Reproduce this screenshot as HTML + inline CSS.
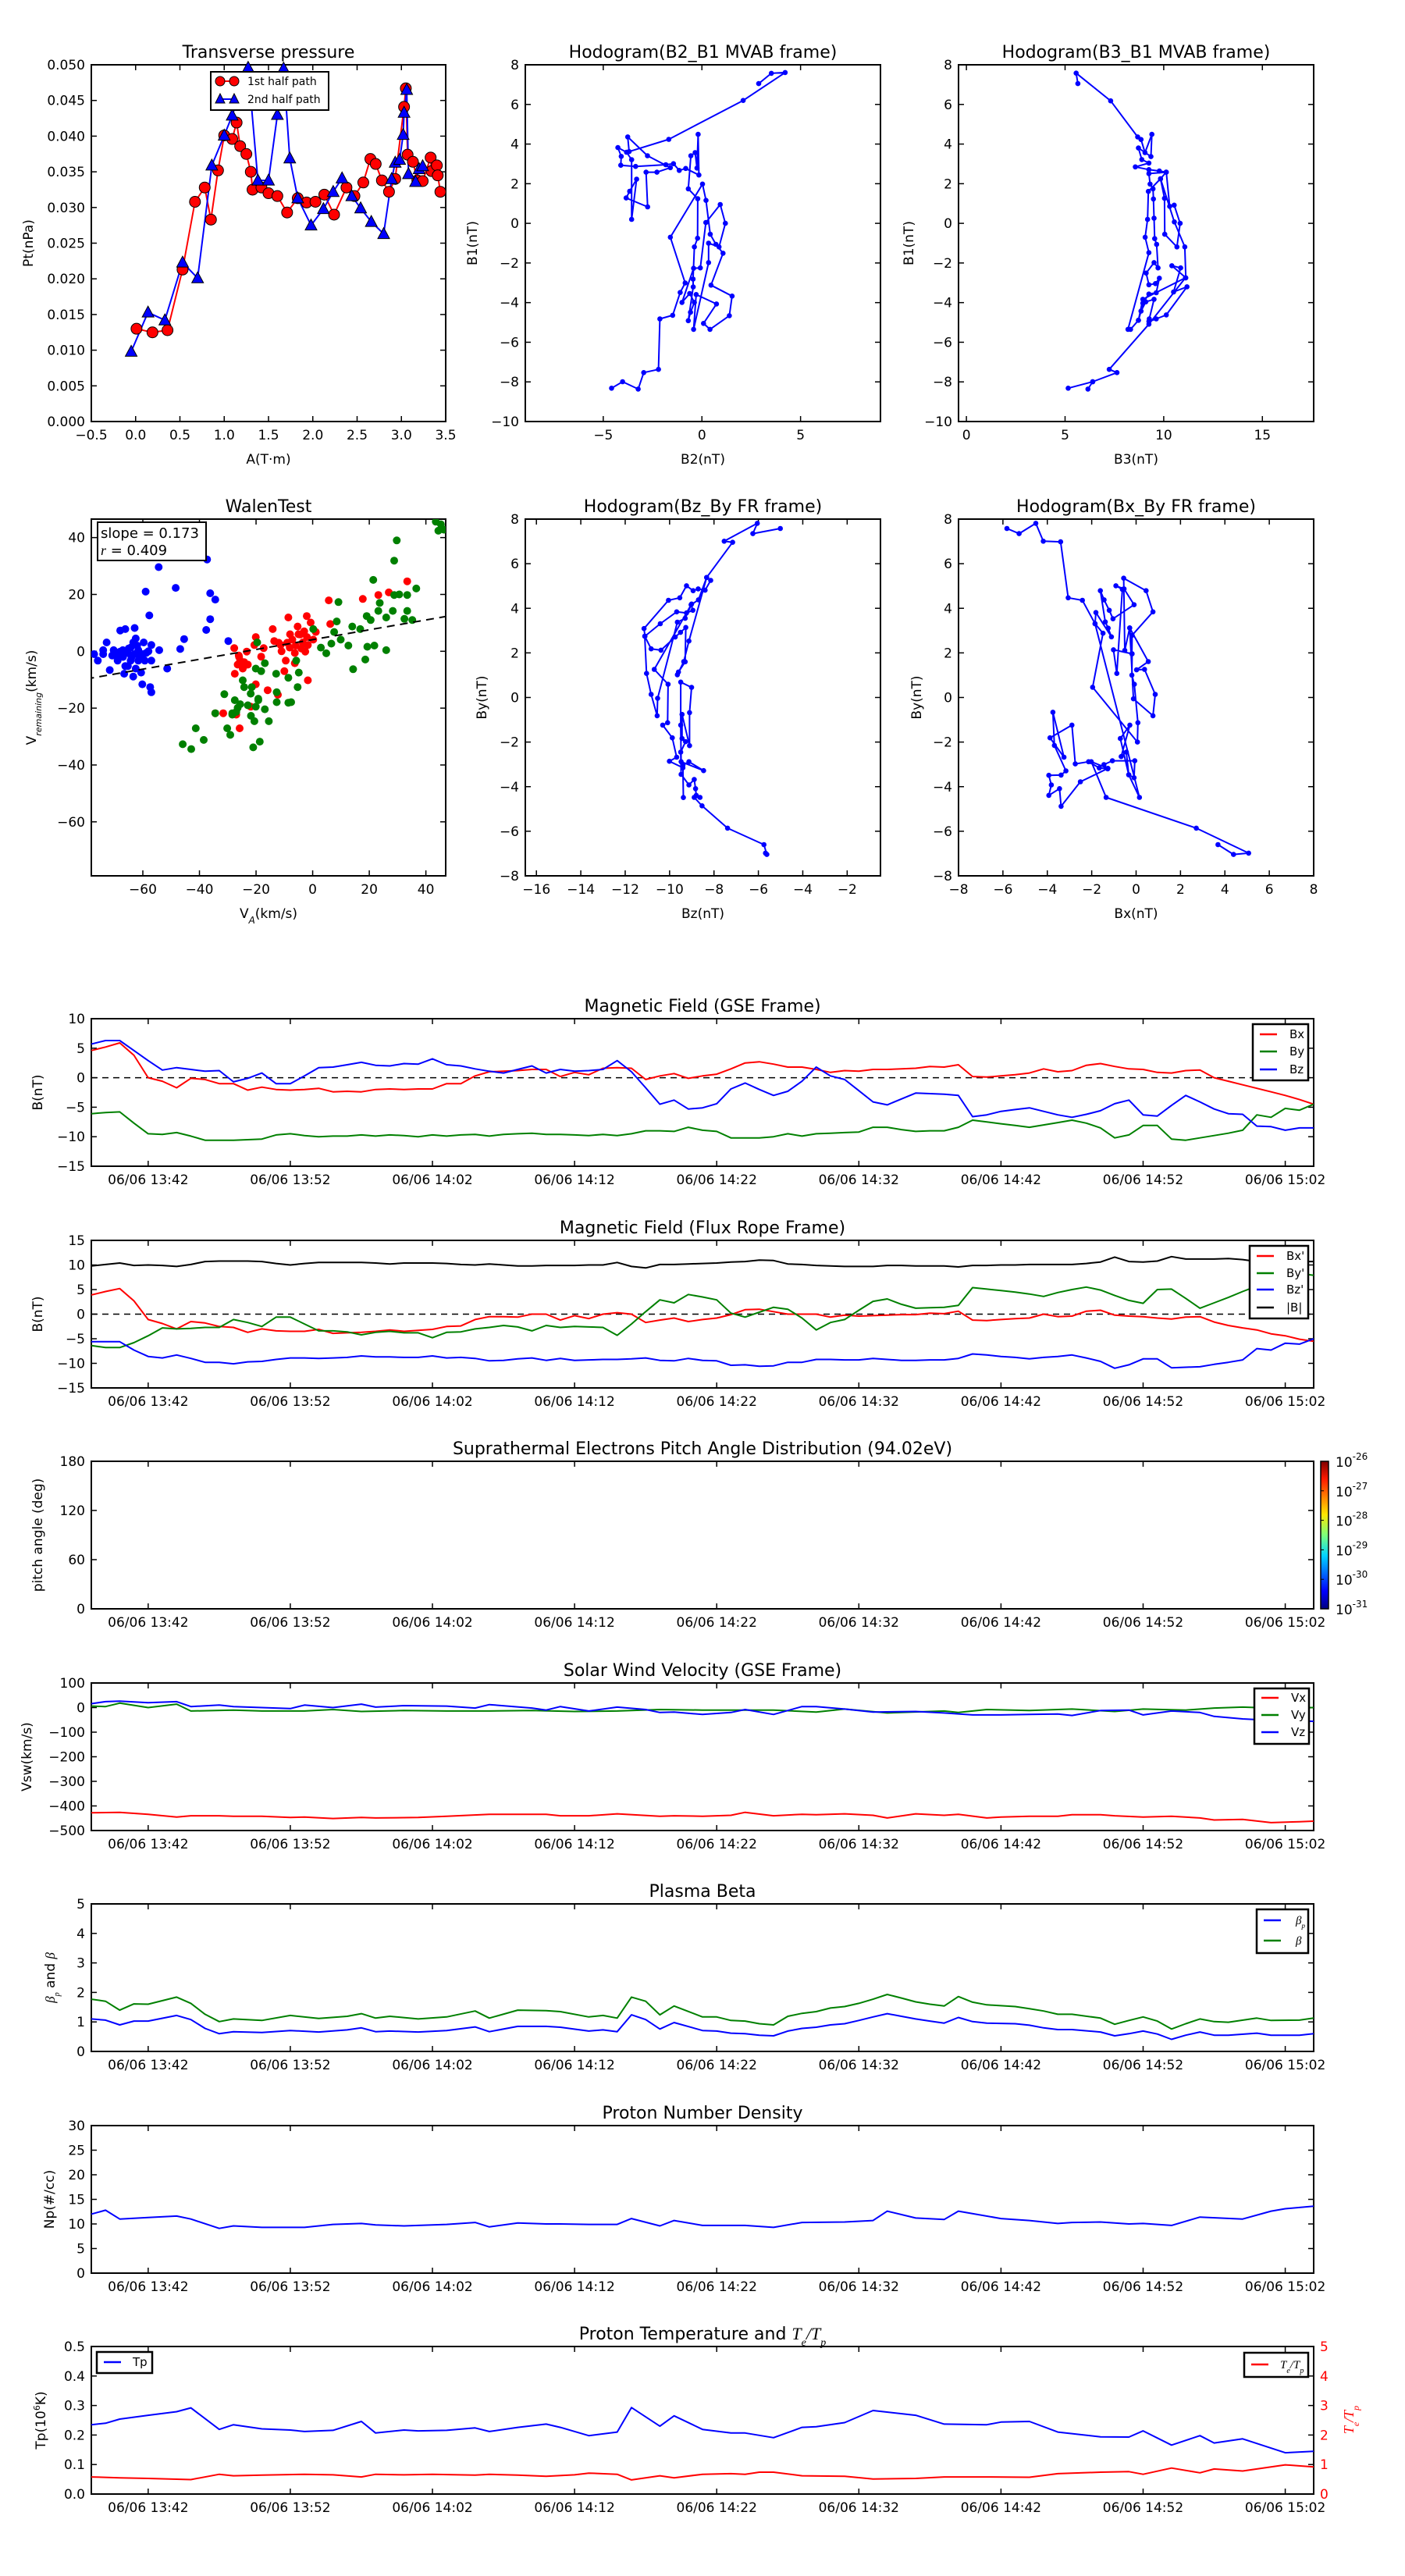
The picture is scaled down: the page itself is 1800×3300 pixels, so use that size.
<!DOCTYPE html>
<html><head><meta charset="utf-8">
<style>
body{margin:0;background:#fff}
svg{display:block;font-family:"DejaVu Sans","Liberation Sans",sans-serif}
</style></head>
<body>
<svg id="fig" width="1800" height="3300" viewBox="0 0 1800 3300">
<rect width="1800" height="3300" fill="#fff"/>
<defs>
<linearGradient id="jet" x1="0" y1="1" x2="0" y2="0">
<stop offset="0" stop-color="#00007f"/><stop offset="0.12" stop-color="#0000ff"/><stop offset="0.36" stop-color="#00d4ff"/><stop offset="0.5" stop-color="#7dff7a"/><stop offset="0.64" stop-color="#ffe600"/><stop offset="0.88" stop-color="#ff1a00"/><stop offset="1" stop-color="#7f0000"/>
</linearGradient>
</defs>
</svg>
<script>
// ---------- DATA ----------
const ptRedA=[0.01,0.19,0.36,0.53,0.67,0.78,0.85,0.93,1.0,1.09,1.14,1.18,1.25,1.30,1.32,1.42,1.50,1.60,1.71,1.83,1.93,2.03,2.13,2.24,2.38,2.47,2.57,2.65,2.71,2.78,2.86,2.93,3.03,3.05,3.07,3.13,3.18,3.24,3.33,3.34,3.40,3.41,3.44];
const ptRedP=[0.013,0.0125,0.0128,0.0213,0.0308,0.0328,0.0283,0.0352,0.0401,0.0396,0.0419,0.0386,0.0375,0.035,0.0325,0.0328,0.032,0.0316,0.0293,0.0313,0.0307,0.0308,0.0318,0.029,0.0328,0.0316,0.0335,0.0368,0.0361,0.0338,0.0322,0.034,0.0441,0.0467,0.0374,0.0364,0.0338,0.0337,0.037,0.0351,0.0359,0.0345,0.0322];
const ptBlueA=[-0.05,0.14,0.33,0.53,0.70,0.86,1.0,1.09,1.27,1.38,1.50,1.60,1.67,1.74,1.83,1.98,2.12,2.23,2.33,2.44,2.54,2.66,2.80,2.89,2.93,2.98,3.02,3.03,3.06,3.08,3.16,3.20,3.24];
const ptBlueP=[0.0098,0.0153,0.0142,0.0223,0.0201,0.0359,0.0401,0.0429,0.0496,0.0338,0.0338,0.043,0.0495,0.0369,0.0313,0.0275,0.0298,0.0322,0.0341,0.0316,0.0299,0.028,0.0263,0.034,0.0363,0.0367,0.0402,0.0433,0.0465,0.0347,0.0336,0.0354,0.0358];

const h1B2=[-4.58,-4.02,-3.23,-2.95,-2.20,-2.13,-1.48,-1.10,-0.85,-1.60,0.03,0.21,0.42,0.71,1.07,0.46,1.53,1.39,0.41,0.08,0.74,-0.29,-0.42,0.34,0.34,0.87,1.19,0.93,0.20,-0.08,-0.42,-1.01,-0.62,-0.38,-0.58,-0.69,-0.44,-0.45,-0.38,-0.22,-0.21,-0.69,-0.56,-0.34,-0.25,-0.19,-0.15,-0.82,-1.15,-1.44,-1.83,-3.36,-4.11,-4.09,-4.26,-3.82,-3.56,-3.56,-3.31,-3.66,-3.84,-2.75,-2.83,-2.28,-1.60,-2.76,-3.76,-3.69,-1.68,2.09,4.22,3.52,2.88];
const h1B1=[-8.32,-7.99,-8.36,-7.53,-7.37,-4.82,-4.64,-3.49,-3.01,-0.70,1.98,1.16,-0.55,-1.06,-1.51,-3.12,-3.67,-4.66,-5.35,-5.05,-4.07,-3.59,-5.35,-1.98,-1.00,-1.19,0,0.95,0.04,-2.25,-2.27,-3.99,-3.54,-3.99,-4.49,-4.91,-3.21,-2.81,-1.19,-0.75,1.24,1.74,3.41,3.57,2.79,4.49,2.44,2.77,2.67,3.01,2.96,2.87,2.93,3.38,3.82,3.59,3.21,0.20,2.23,1.62,1.28,0.83,2.58,2.58,2.81,3.41,4.36,3.62,4.24,6.20,7.61,7.57,7.05];

const h2B3=[5.65,5.56,7.31,8.68,8.85,9.05,9.40,9.35,8.72,8.89,9.25,8.56,9.25,9.78,10.13,10.30,10.53,10.83,10.67,10.05,10.04,9.84,9.22,9.18,9.06,9.25,8.19,8.32,8.72,8.94,9.25,9.62,9.78,9.58,9.25,9.11,9.51,9.71,9.64,9.54,9.51,9.48,9.46,9.31,9.25,10.12,9.84,10.54,11.07,11.12,10.41,10.86,10.50,11.18,10.13,9.62,9.25,9.27,9.51,9.09,8.85,8.72,8.94,11.10,9.25,7.24,7.63,6.40,6.16,6.40,5.16];
const h2B1=[7.05,7.58,6.18,4.36,4.23,3.57,4.49,3.37,3.80,3.22,3.04,2.85,2.71,2.64,2.58,0.86,0.92,0,-1.19,-0.55,1.26,2.25,1.61,0.20,-0.70,-1.48,-5.35,-5.35,-4.89,-4.03,-3.57,-3.50,-2.77,-3.04,-3.10,-2.51,-1.98,-2.25,-1.06,-0.77,0.26,1.23,1.74,1.98,2.51,2.58,2.25,0.07,-1.19,-2.75,-2.14,-2.25,-3.46,-3.20,-4.62,-4.82,-4.95,-4.82,-3.83,-3.96,-4.43,-4.89,-3.83,-2.75,-5.09,-7.37,-7.53,-7.99,-8.36,-7.99,-8.32];

const h3Bz=[-5.01,-6.25,-6.05,-7.54,-7.16,-8.33,-8.15,-8.40,-8.71,-8.94,-9.24,-9.54,-10.05,-11.15,-11.11,-10.42,-9.68,-9.24,-8.95,-9.03,-8.70,-8.33,-9.13,-9.36,-9.65,-9.60,-9.30,-9.27,-9.51,-9.75,-10.39,-10.83,-11.12,-11.04,-10.83,-10.56,-10.54,-9.65,-9.30,-9.01,-10.69,-10.07,-10.09,-10.31,-9.88,-9.68,-10.01,-9.40,-9.38,-9.40,-9.13,-8.47,-9.48,-9.50,-9.50,-9.01,-9.10,-9.10,-9.44,-9.44,-9.28,-9.50,-9.48,-9.13,-8.89,-8.83,-8.80,-8.63,-8.89,-8.54,-7.39,-5.75,-5.62,-5.68];
const h3By=[7.58,7.35,7.81,7.01,6.96,5.38,5.25,4.81,4.87,4.79,5.01,4.47,4.36,3.09,2.75,3.31,3.84,3.79,3.91,4.16,4.38,5.38,2.53,1.61,1.02,1.14,1.60,3.14,2.92,2.71,2.12,2.18,2.75,1.08,0.14,-0.82,-0.04,3.38,3.55,4.19,1.26,0.59,-1.13,-1.24,-1.81,-2.68,-2.86,-3.15,-4.49,-3.04,-2.88,-3.28,-2.88,-1.24,0.69,0.45,-0.68,-2.16,-0.76,-1.84,-1.98,-2.45,-3.45,-3.92,-3.68,-4.09,-4.39,-4.48,-4.48,-4.86,-5.86,-6.60,-7.04,-6.98];

const h4Bx=[-5.82,-5.27,-4.52,-4.18,-3.40,-3.06,-2.42,-1.85,-1.49,-1.96,0.06,0.08,-0.08,-0.19,-0.18,-0.29,0.55,0.02,0.38,0.86,0.76,-0.12,-0.29,-0.51,-0.56,0.45,0.76,-0.18,-0.19,-1.02,-0.87,-0.62,-0.91,-0.54,-0.09,-1.04,-1.21,-1.44,-1.61,-1.39,-1.26,-1.11,-1.81,-1.85,0.15,-0.33,-0.44,-0.67,-0.28,-0.71,-0.33,-0.09,-0.06,-1.07,-1.45,-1.28,-1.66,-2.14,-2.74,-2.89,-3.88,-3.25,-3.75,-3.68,-3.16,-3.38,-3.93,-3.82,-3.93,-3.45,-3.38,-2.51,-1.27,-2.02,-1.35,2.71,5.07,4.39,3.69];
const h4By=[7.58,7.35,7.81,7.01,6.98,4.47,4.36,3.31,2.88,0.46,-2.00,-1.13,0.59,1.00,1.96,3.12,1.61,1.24,1.26,0.14,-0.82,-0.06,3.12,2.11,5.35,4.79,3.84,2.79,1.96,2.14,1.08,4.85,5.01,4.87,4.16,3.53,3.91,4.38,4.79,3.39,3.11,2.72,3.81,3.31,-4.48,-3.47,-2.45,-2.65,-1.24,-1.84,-3.47,-3.60,-2.84,-2.84,-3.01,-3.20,-3.16,-2.88,-2.98,-1.24,-1.81,-2.68,-0.66,-2.15,-3.29,-3.48,-3.49,-3.92,-4.39,-4.09,-4.88,-3.78,-3.18,-2.88,-4.48,-5.86,-6.98,-7.04,-6.60];

const walenBlueX=[-77.2,-75.9,-74.0,-74.0,-72.8,-71.7,-70.3,-68.9,-68.0,-66.2,-62.9,-67.1,-65.3,-63.4,-62.5,-61.6,-59.7,-58.8,-57.0,-57.0,-54.2,-66.6,-65.3,-63.4,-60.6,-60.2,-57.4,-57.0,-51.4,-46.8,-45.4,-37.6,-36.2,-57.7,-59.0,-54.4,-48.4,-37.3,-36.2,-34.4,-29.8,-64.3,-61.6,-68.9,-70.8,-59.3,-64.3,-66.2,-62.5,-68.0,-63,-61,-65,-67,-60,-62,-64,-58];
const walenBlueY=[-1.0,-3.3,0.4,-1.0,3.1,-6.6,0.4,-1.5,7.3,7.8,8.2,0.4,-0.6,3.1,4.5,0.4,3.1,-0.6,2.2,-3.3,0.4,-7.9,-5.2,-8.9,-7.5,-11.6,-12.6,-14.4,-6.1,0.8,4.3,7.5,11.3,12.6,21.0,29.6,22.3,32.3,20.4,18.2,3.6,-3.3,-3.3,-3.3,-1.5,-3.3,1.3,-5.2,-6.1,-0.1,-1,-2,1,-2,-1,2,-2,0];
const walenRedX=[-27.7,-26.1,-24.2,-26.5,-24.7,-27.5,-23.3,-20.1,-20.6,-17.3,-18.2,-14.1,-13.6,-11.3,-8.6,-9.5,-10.0,-6.3,-5.3,-4.4,-2.1,-0.7,-1.7,0.2,1.1,-1.7,5.7,6.2,17.7,23.2,26.9,33.4,-20.1,-15.9,-12.3,-21.9,-31.6,-34.4,-27.0,-25.8,-8.1,-6.3,-3.5,-7.2,-2.6,-22.9,-25.6,-5,-9,-4,-11,-6,-3,-26,-24,-2,-8,-12];
const walenRedY=[1.1,-1.5,-3.8,-4.7,-6.1,-7.9,-0.1,5.0,2.2,1.1,-1.9,7.8,3.6,2.2,11.9,-3.3,-7.0,-4.2,8.7,5.9,12.4,10.1,2.2,4.1,6.8,-10.2,17.9,9.6,18.4,19.8,20.7,24.6,-11.6,-13.7,-15.3,-19.5,-21.8,-21.8,-22.3,-27.1,1.3,-0.6,3.1,4.1,-0.1,-4.7,-3.3,6,3,1,0,2,7,-2,-5,5,6,3];
const walenGreenX=[-45.9,-42.9,-41.3,-38.5,-31.2,-34.4,-30.2,-29.1,-28.4,-27.5,-26.5,-24.7,-24.2,-22.9,-21.5,-21.8,-20.6,-21.0,-18.7,-20.1,-18.2,-19.6,-16.9,-19.2,-20.1,-16.9,-15.5,-12.9,-12.7,-12.7,-8.6,-7.6,-8.6,-4.9,-5.3,-5.8,0.2,2.9,4.8,6.6,8.5,7.6,9.9,12.6,14.0,16.8,14.3,18.6,19.3,21.8,26.0,9.1,19.1,20.5,21.4,23.7,23.2,26.0,28.8,29.7,28.3,28.8,30.6,33.4,33.4,32.4,35.2,36.6,43.5,44.4,46.3,45.3,-27.0,-25.6,-21.9,-19.2,-28.4];
const walenGreenY=[-32.7,-34.4,-27.1,-31.2,-15.1,-21.8,-27.1,-29.4,-21.8,-17.2,-19.9,-10.2,-12.6,-19.0,-12.6,-22.7,-24.6,-33.8,-31.8,-6.1,-7.0,3.1,-4.2,-17.2,-19.5,-20.4,-24.6,-7.9,-14.4,-17.9,-18.1,-17.9,-9.3,-7.5,-12.6,-3.3,7.8,1.3,-0.7,2.7,10.5,6.8,4.1,2.0,8.7,7.8,-6.3,-2.9,1.6,2.0,0.4,17.3,12.4,11.0,25.1,17.0,14.2,11.9,31.9,39.0,14.2,19.8,20.0,19.8,14.2,11.4,11.0,22.1,45.6,42.4,42.8,44.7,-21.3,-18.6,-14.9,-16.7,-22.3];
const walenSlope=0.173, walenIntercept=4.1;

const timeTickMin=[4,14,24,34,44,54,64,74,84];
const timeTickLabels=['06/06 13:42','06/06 13:52','06/06 14:02','06/06 14:12','06/06 14:22','06/06 14:32','06/06 14:42','06/06 14:52','06/06 15:02'];

const gseBx=[4.6,5.2,5.9,3.8,0,-0.6,-1.7,-0.1,-0.3,-1,-1,-2.1,-1.6,-2,-2.1,-2,-1.8,-2.4,-2.3,-2.4,-2,-1.9,-2,-1.9,-1.9,-1,-1,0.3,1,1.1,1.2,1.4,1.4,0.2,0.9,0.5,1.6,1.7,1.6,-0.3,0.3,0.7,-0.1,0.3,0.6,1.5,2.5,2.7,2.3,1.8,1.8,1.4,0.9,1.2,1.1,1.4,1.4,1.5,1.6,1.9,1.8,2.2,0.2,0.1,0.3,0.5,0.8,1.5,1,1.2,2.1,2.4,1.9,1.5,1.4,0.9,0.8,1.2,1.3,0,-0.6,-1.2,-1.8,-2.4,-3,-3.7,-4.5];
const gseBy=[-6.1,-5.9,-5.8,-7.7,-9.5,-9.6,-9.3,-9.9,-10.6,-10.6,-10.6,-10.5,-10.4,-9.7,-9.5,-9.8,-10,-9.9,-9.9,-9.7,-9.9,-9.7,-9.8,-10,-9.7,-9.9,-9.7,-9.6,-9.9,-9.6,-9.5,-9.4,-9.6,-9.6,-9.7,-9.8,-9.6,-9.8,-9.5,-9,-9,-9.1,-8.4,-8.9,-9.1,-10.2,-10.2,-10.2,-10,-9.5,-9.9,-9.5,-9.4,-9.3,-9.2,-8.4,-8.4,-8.8,-9.1,-9,-9,-8.4,-7.2,-7.5,-7.8,-8.1,-8.4,-8,-7.6,-7.2,-7.7,-8.5,-10.2,-9.7,-8.1,-8.1,-10.4,-10.6,-10.2,-9.8,-9.4,-8.9,-6.3,-6.7,-5.2,-5.5,-4.5];
const gseBz=[5.7,6.3,6.3,4.6,2.9,1.3,1.7,1.4,1.1,1.2,-0.7,-0.1,0.8,-1,-1,0.3,1.7,1.8,2.2,2.6,2.1,2,2.4,2.3,3.2,2.2,2,1.5,1.1,0.8,1.4,2,0.8,1.4,1.1,1.2,1.4,2.9,1,-1.7,-4.5,-3.8,-5.3,-5.1,-4.4,-1.9,-0.9,-2,-3,-2.3,-0.6,1.8,0.3,-0.3,-2.2,-4.1,-4.6,-3.6,-2.6,-2.7,-2.8,-3,-6.6,-6.3,-5.7,-5.4,-5.1,-5.7,-6.3,-6.7,-6.2,-5.6,-4.4,-3.8,-6.3,-6.5,-4.7,-3,-4.1,-5.3,-6.1,-6.2,-8.2,-8.3,-8.9,-8.5,-8.5];

const frBx=[3.9,4.6,5.2,2.7,-1.1,-1.9,-3,-1.5,-1.8,-2.5,-2.7,-3.7,-3,-3.4,-3.5,-3.5,-3.1,-3.9,-3.8,-3.7,-3.5,-3.2,-3.5,-3.3,-3.1,-2.5,-2.4,-1.1,-0.5,-0.5,-0.6,0,0,-1.2,-0.3,-0.9,0,0.3,0,-1.7,-1.2,-0.8,-1.5,-1.1,-0.8,-0.1,0.9,1,0.5,0,0,0,-0.6,-0.2,-0.4,-0.3,-0.2,-0.1,-0.1,0.2,0.1,0.6,-1.2,-1.3,-1.1,-0.9,-0.8,0,-0.5,-0.4,0.6,0.8,-0.2,-0.4,-0.5,-0.8,-1,-0.6,-0.5,-1.6,-2.3,-2.8,-3.2,-4,-4.4,-5.1,-5.5];
const frBy=[-6.4,-6.8,-6.8,-5.8,-4.4,-2.8,-3,-2.9,-2.7,-2.7,-1.1,-1.7,-2.5,-0.6,-0.6,-2,-3.4,-3.4,-3.6,-4.2,-3.7,-3.5,-3.8,-3.8,-4.8,-3.7,-3.6,-3,-2.7,-2.3,-2.6,-3.4,-2.3,-2.7,-2.5,-2.6,-2.7,-4.3,-2,0.5,2.9,2.3,4,3.5,2.9,0.2,-0.6,0.4,1.4,1,-0.8,-3.2,-1.7,-1.1,0.8,2.6,3.1,2,1.2,1.3,1.4,1.8,5.4,5.1,4.8,4.5,4.1,3.6,4.4,5,5.5,4.9,3.8,2.8,2.2,5,5.1,3.2,1.2,2.3,3.4,4.6,5.7,7.2,7,8.3,7.9];
const frBz=[-5.6,-5.6,-5.6,-7.3,-8.6,-8.9,-8.3,-9,-9.8,-9.8,-10.1,-9.7,-9.6,-9.2,-8.9,-8.9,-9,-8.9,-8.8,-8.5,-8.7,-8.7,-8.8,-8.8,-8.5,-8.9,-8.8,-9,-9.5,-9.4,-9.1,-8.9,-9.4,-9,-9.4,-9.3,-9.2,-9.2,-9.1,-8.9,-9.4,-9.5,-9,-9.4,-9.5,-10.4,-10.3,-10.6,-10.5,-9.8,-9.8,-9.2,-9.2,-9.3,-9.3,-9,-9.2,-9.4,-9.4,-9.3,-9.3,-9,-8.1,-8.3,-8.6,-8.8,-9.1,-8.8,-8.6,-8.3,-8.9,-9.6,-11,-10.3,-9.1,-9.1,-10.9,-10.8,-10.7,-10.2,-9.8,-9.3,-7,-7.3,-5.9,-6.1,-5];
const frBt=[9.8,10.1,10.4,9.9,10,9.9,9.7,10.1,10.7,10.8,10.8,10.8,10.7,10.3,10,10.3,10.5,10.5,10.5,10.5,10.4,10.2,10.4,10.4,10.4,10.3,10.1,10,10.2,10,9.8,9.8,9.9,9.9,9.9,10,10,10.5,9.7,9.4,10.1,10.1,10.2,10.3,10.4,10.6,10.7,11,10.9,10.2,10.1,9.9,9.8,9.7,9.7,9.7,9.9,9.9,9.8,9.8,9.8,9.6,9.9,9.9,10,10,10.1,10.1,10.1,10.1,10.3,10.6,11.6,10.7,10.6,10.8,11.7,11.2,11.2,11.2,11.3,11.1,10.7,10.7,10.7,10.7,10.7];

const vxT=[0,2,4,6,7,9,10,12,14,15,17,19,20,23,25,28,32,33,35,37,40,41,43,45,46,48,50,51,53,55,56,58,60,61,63,64,66,68,69,71,72,74,76,78,79,81,83,85,86];
const vxV=[-428,-426,-434,-445,-440,-440,-442,-442,-447,-445,-451,-447,-449,-447,-442,-434,-434,-440,-440,-432,-442,-440,-442,-438,-426,-440,-434,-436,-432,-438,-449,-432,-438,-434,-449,-445,-442,-442,-436,-436,-440,-445,-442,-449,-457,-455,-468,-464,-462];
const vyT=[0,1,2,4,6,7,10,12,15,17,19,22,25,28,31,34,37,40,43,48,51,53,56,60,61,63,66,69,72,74,77,79,81,83,86];
const vyV=[6,4,18,0,14,-14,-10,-14,-14,-8,-16,-12,-14,-14,-12,-16,-14,-8,-10,-10,-18,-6,-22,-14,-20,-8,-12,-6,-16,-6,-10,-2,2,-2,0];
const vzT=[0,1,2,4,6,7,9,10,14,15,17,19,20,22,25,27,28,31,32,33,35,37,39,40,41,43,45,46,48,50,51,53,55,58,60,62,64,66,68,69,71,73,74,76,78,79,81,83,86];
const vzV=[16,24,26,20,24,4,10,4,-4,10,0,14,2,8,6,-2,12,-2,-10,4,-14,2,-8,-20,-18,-28,-20,-8,-28,4,4,-6,-18,-16,-22,-30,-30,-28,-26,-32,-12,-10,-30,-14,-20,-36,-46,-52,-56];

const betaT=[0,1,2,3,4,6,7,8,9,10,12,14,16,18,19,20,21,23,25,27,28,30,32,33,35,36,37,38,39,40,41,43,44,45,46,47,48,49,50,51,52,53,54,55,56,57,58,59,60,61,62,63,65,66,67,68,69,71,72,73,74,75,76,77,78,79,80,82,83,85,86];
const betaP=[1.1,1.06,0.9,1.03,1.03,1.22,1.08,0.78,0.6,0.67,0.64,0.71,0.66,0.73,0.8,0.67,0.69,0.66,0.71,0.83,0.67,0.85,0.85,0.82,0.69,0.73,0.67,1.24,1.08,0.76,0.98,0.71,0.69,0.62,0.6,0.55,0.53,0.69,0.78,0.82,0.9,0.94,1.05,1.17,1.28,1.19,1.1,1.03,0.96,1.15,1.01,0.96,0.94,0.89,0.8,0.74,0.74,0.66,0.53,0.6,0.69,0.59,0.41,0.55,0.66,0.55,0.55,0.62,0.55,0.55,0.6];
const betaTot=[1.77,1.7,1.4,1.61,1.6,1.84,1.63,1.26,1.01,1.1,1.05,1.22,1.12,1.19,1.28,1.13,1.19,1.1,1.17,1.37,1.13,1.4,1.38,1.35,1.17,1.22,1.13,1.84,1.7,1.24,1.54,1.17,1.17,1.05,1.03,0.94,0.9,1.19,1.29,1.35,1.47,1.52,1.63,1.77,1.93,1.81,1.68,1.6,1.54,1.86,1.67,1.58,1.52,1.45,1.37,1.26,1.26,1.13,0.92,1.05,1.17,1.03,0.76,0.94,1.1,1.01,0.99,1.13,1.05,1.06,1.13];

const npT=[0,1,2,4,6,7,9,10,12,15,17,19,20,22,25,27,28,30,32,33,35,37,38,40,41,43,46,48,50,53,55,56,58,60,61,64,66,68,69,71,73,74,76,78,81,83,84,86];
const npV=[12,12.8,11,11.3,11.6,11,9.1,9.6,9.3,9.3,9.9,10.1,9.8,9.6,9.9,10.3,9.4,10.2,10,10,9.9,9.9,11.1,9.6,10.7,9.7,9.7,9.3,10.3,10.4,10.7,12.6,11.2,10.9,12.6,11.1,10.7,10.1,10.3,10.4,10,10.1,9.7,11.4,11,12.6,13.1,13.6];

const tpT=[0,1,2,4,6,7,9,10,12,14,15,17,19,20,22,23,25,27,28,30,32,33,35,37,38,40,41,43,45,46,48,50,51,53,55,58,60,63,64,66,68,71,73,74,76,78,79,81,84,86];
const tpV=[0.235,0.24,0.254,0.267,0.279,0.292,0.219,0.235,0.221,0.217,0.212,0.216,0.246,0.207,0.217,0.214,0.216,0.224,0.212,0.226,0.237,0.226,0.198,0.21,0.293,0.23,0.265,0.219,0.207,0.207,0.191,0.226,0.228,0.242,0.283,0.267,0.237,0.235,0.244,0.246,0.21,0.194,0.193,0.214,0.166,0.198,0.173,0.187,0.14,0.145];
const teT=[0,2,4,7,9,10,12,15,17,19,20,22,24,27,28,30,32,34,35,37,38,40,41,43,45,46,47,48,50,53,55,58,60,63,66,68,71,73,74,76,78,79,81,83,84,86];
const teV=[0.58,0.55,0.53,0.49,0.67,0.62,0.64,0.67,0.65,0.58,0.67,0.65,0.67,0.64,0.67,0.64,0.6,0.65,0.71,0.67,0.48,0.62,0.55,0.67,0.69,0.67,0.74,0.74,0.62,0.6,0.51,0.53,0.58,0.58,0.57,0.69,0.74,0.76,0.67,0.88,0.72,0.85,0.78,0.92,0.99,0.92];

// ---------- HELPERS ----------
const NS='http://www.w3.org/2000/svg';
const svg=document.getElementById('fig');
function mk(tag,attrs,parent){const e=document.createElementNS(NS,tag);for(const k in attrs)e.setAttribute(k,attrs[k]);(parent||svg).appendChild(e);return e;}
function lin(d0,d1,r0,r1){return v=>r0+(v-d0)*(r1-r0)/(d1-d0);}
function fmt(v,dec){const s=Math.abs(v).toFixed(dec||0);return (v<0?'\u2212':'')+s;}
function range(a,b,s){const r=[];for(let v=a;v<=b+1e-9;v+=s)r.push(+v.toFixed(6));return r;}

function axes(o){
  const g=mk('g',{});
  
  
  const sx=lin(o.xd[0],o.xd[1],o.x,o.x+o.w), sy=lin(o.yd[0],o.yd[1],o.y+o.h,o.y);
  const cp=mk('clipPath',{id:'clip-'+o.name},g);
  mk('rect',{x:o.x,y:o.y,width:o.w,height:o.h},cp);
  const TL=7, fs=o.fs||17;
  o.xt.forEach((v,i)=>{
    const X=sx(v);
    const a=mk('line',{x1:X,x2:X,y1:o.y+o.h,y2:o.y+o.h-TL,stroke:'#000','stroke-width':1.5},g);
    
    
    const b=mk('line',{x1:X,x2:X,y1:o.y,y2:o.y+TL,stroke:'#000','stroke-width':1.5},g);
    
    
    const t=mk('text',{x:X,y:o.y+o.h+23,'text-anchor':'middle','font-size':fs},g);
    
    
    t.textContent=o.xl?o.xl[i]:fmt(v,o.xdec);
  });
  o.yt.forEach(v=>{
    const Y=sy(v);
    const a=mk('line',{x1:o.x,x2:o.x+TL,y1:Y,y2:Y,stroke:'#000','stroke-width':1.5},g);
    
    
    if(!o.noRightTicks){
      const b=mk('line',{x1:o.x+o.w,x2:o.x+o.w-TL,y1:Y,y2:Y,stroke:'#000','stroke-width':1.5},g);
      
      
    }
    const t=mk('text',{x:o.x-8,y:Y+6,'text-anchor':'end','font-size':fs},g);
    
    
    t.textContent=fmt(v,o.ydec);
  });
  const fr=mk('rect',{x:o.x,y:o.y,width:o.w,height:o.h,fill:'none',stroke:'#000','stroke-width':2},g);
  
  
  if(o.title){
    const t=mk('text',{x:o.x+o.w/2,y:o.y-9,'text-anchor':'middle','font-size':22},g);
    
    
    if(o.titleHTML){t.innerHTML=o.title;}else t.textContent=o.title;
  }
  if(o.xlabel){
    const t=mk('text',{x:o.x+o.w/2,y:o.y+o.h+54,'text-anchor':'middle','font-size':17},g);
    
    
    t.innerHTML=o.xlabel;
  }
  if(o.ylabel){
    const t=mk('text',{transform:`translate(${o.ylx},${o.y+o.h/2}) rotate(-90)`,'text-anchor':'middle','font-size':17},g);
    
    
    t.innerHTML=o.ylabel;
  }
  const plot=mk('g',{'clip-path':'url(#clip-'+o.name+')'},g);
  
  
  return {g,plot,sx,sy,o};
}
function line(ax,xs,ys,color,name,w,dash){
  const pts=xs.map((x,i)=>ax.sx(x).toFixed(1)+','+ax.sy(ys[i]).toFixed(1)).join(' ');
  const p=mk('polyline',{points:pts,fill:'none',stroke:color,'stroke-width':w||2,'stroke-linejoin':'round'},ax.plot);
  if(dash)p.setAttribute('stroke-dasharray',dash);
  
  
  return p;
}
function dots(ax,xs,ys,color,r,name,parent){
  xs.forEach((x,i)=>{
    const c=mk('circle',{cx:ax.sx(x).toFixed(1),cy:ax.sy(ys[i]).toFixed(1),r:r,fill:color},parent||ax.plot);
    
    
  });
}
function legend(x,y,w,h,entries,lineX1,lineX2,textX,fs){
  const g=mk('g',{});
  
  
  mk('rect',{x,y,width:w,height:h,fill:'#fff',stroke:'#000','stroke-width':2.5},g);
  entries.forEach(e=>{
    const l=mk('line',{x1:lineX1,x2:lineX2,y1:e.y,y2:e.y,stroke:e.c,'stroke-width':2.5},g);
    
    
    const t=mk('text',{x:textX,y:e.y+5,'font-size':fs||15,fill:e.tc||'#000'},g);
    
    
    t.innerHTML=e.t;
  });
  return g;
}

// ---------- TOP ROW ----------
const P1=axes({name:'transverse-pressure',x:117,y:83,w:454,h:457,xd:[-0.5,3.5],yd:[0,0.05],xt:range(-0.5,3.5,0.5),yt:range(0,0.05,0.005),xdec:1,ydec:3,title:'Transverse pressure',xlabel:'A(T·m)',ylabel:'Pt(nPa)',ylx:42});
line(P1,ptRedA,ptRedP,'#ff0000','first-half-line',2);
line(P1,ptBlueA,ptBlueP,'#0000ff','second-half-line',2);
ptRedA.forEach((a,i)=>{
  const c=mk('circle',{cx:P1.sx(a),cy:P1.sy(ptRedP[i]),r:7,fill:'#ff0000',stroke:'#000','stroke-width':1},P1.g);
  
  
});
ptBlueA.forEach((a,i)=>{
  const X=P1.sx(a),Y=Math.max(P1.sy(ptBlueP[i]),83);
  const c=mk('polygon',{points:`${X},${Y-8} ${X-7.5},${Y+6} ${X+7.5},${Y+6}`,fill:'#0000ff',stroke:'#000','stroke-width':1},P1.g);
  
  
});
{
  const g=mk('g',{});
  
  
  mk('rect',{x:270,y:92,width:151,height:49,fill:'#fff',stroke:'#000','stroke-width':2},g);
  mk('line',{x1:282,x2:300,y1:104,y2:104,stroke:'#f00','stroke-width':2},g);
  mk('circle',{cx:282,cy:104,r:6,fill:'#f00',stroke:'#000'},g);
  mk('circle',{cx:300,cy:104,r:6,fill:'#f00',stroke:'#000'},g);
  mk('line',{x1:282,x2:300,y1:127,y2:127,stroke:'#00f','stroke-width':2},g);
  mk('polygon',{points:'282,120 276,132 288,132',fill:'#00f',stroke:'#000'},g);
  mk('polygon',{points:'300,120 294,132 306,132',fill:'#00f',stroke:'#000'},g);
  const t1=mk('text',{x:317,y:109,'font-size':14},g);t1.textContent='1st half path';
  
  
  const t2=mk('text',{x:317,y:132,'font-size':14},g);t2.textContent='2nd half path';
  
  
}

const P2=axes({name:'hodogram-b2-b1',x:673,y:83,w:455,h:457,xd:[-8.95,9.05],yd:[-10,8],xt:[-5,0,5],yt:range(-10,8,2),title:'Hodogram(B2_B1 MVAB frame)',xlabel:'B2(nT)',ylabel:'B1(nT)',ylx:611});
line(P2,h1B2,h1B1,'#0000ff','hodogram-path',2);
dots(P2,h1B2,h1B1,'#0000ff',3.3,'hodogram-point');

const P3=axes({name:'hodogram-b3-b1',x:1228,y:83,w:455,h:457,xd:[-0.4,17.6],yd:[-10,8],xt:[0,5,10,15],yt:range(-10,8,2),title:'Hodogram(B3_B1 MVAB frame)',xlabel:'B3(nT)',ylabel:'B1(nT)',ylx:1170});
line(P3,h2B3,h2B1,'#0000ff','hodogram-path',2);
dots(P3,h2B3,h2B1,'#0000ff',3.3,'hodogram-point');

const P4=axes({name:'walen-test',x:117,y:665,w:454,h:457,xd:[-78.2,47],yd:[-79,46.5],xt:[-60,-40,-20,0,20,40],yt:[-60,-40,-20,0,20,40],title:'WalenTest',xlabel:'V<tspan font-size="12" baseline-shift="sub" font-style="italic">A</tspan>(km/s)',ylabel:'V<tspan font-size="11" baseline-shift="sub" font-style="italic">remaining</tspan>(km/s)',ylx:46});
dots(P4,walenBlueX,walenBlueY,'#0000ff',5,'walen-point-blue');
dots(P4,walenRedX,walenRedY,'#ff0000',5,'walen-point-red');
dots(P4,walenGreenX,walenGreenY,'#008000',5,'walen-point-green');
line(P4,[-80,50],[walenIntercept+walenSlope*-80,walenIntercept+walenSlope*50],'#000','walen-fit-line',2,'10,7');
{
  const g=mk('g',{});
  
  
  mk('rect',{x:125,y:669,width:139,height:49,fill:'#fff',stroke:'#000','stroke-width':2},g);
  const t1=mk('text',{x:129,y:689,'font-size':18},g);t1.textContent='slope = 0.173';
  
  
  const t2=mk('text',{x:129,y:711,'font-size':18},g);t2.innerHTML='<tspan font-style="italic" font-family="Liberation Serif">r</tspan> = 0.409';
  
  
}

const P5=axes({name:'hodogram-bz-by',x:673,y:665,w:455,h:457,xd:[-16.5,-0.5],yd:[-8,8],xt:range(-16,-2,2),yt:range(-8,8,2),title:'Hodogram(Bz_By FR frame)',xlabel:'Bz(nT)',ylabel:'By(nT)',ylx:623});
line(P5,h3Bz,h3By,'#0000ff','hodogram-path',2);
dots(P5,h3Bz,h3By,'#0000ff',3.3,'hodogram-point');

const P6=axes({name:'hodogram-bx-by',x:1228,y:665,w:455,h:457,xd:[-8,8],yd:[-8,8],xt:range(-8,8,2),yt:range(-8,8,2),title:'Hodogram(Bx_By FR frame)',xlabel:'Bx(nT)',ylabel:'By(nT)',ylx:1180});
line(P6,h4Bx,h4By,'#0000ff','hodogram-path',2);
dots(P6,h4Bx,h4By,'#0000ff',3.3,'hodogram-point');

// ---------- TIME SERIES ----------
const TSX=117,TSW=1566,TSH=189;
const minutes=gseBx.map((_,i)=>i);
function ts(name,top,yd,yt,title,ylabel,ylx,ydec,extra){
  return axes(Object.assign({name,x:TSX,y:top,w:TSW,h:TSH,xd:[0,86],yd,xt:timeTickMin,xl:timeTickLabels,yt,ydec,title,ylabel,ylx},extra||{}));
}
const G1=ts('magnetic-field-gse',1305,[-15,10],range(-15,10,5),'Magnetic Field (GSE Frame)','B(nT)',54,0);
line(G1,[0,86],[0,0],'#000','zero-line',1.5,'8,6');
line(G1,minutes,gseBx,'#ff0000','bx-line');
line(G1,minutes,gseBy,'#008000','by-line');
line(G1,minutes,gseBz,'#0000ff','bz-line');
legend(1605,1312,71,72,[{y:1325,c:'#f00',t:'Bx'},{y:1347,c:'#008000',t:'By'},{y:1370,c:'#00f',t:'Bz'}],1614,1636,1652);

const G2=ts('magnetic-field-flux-rope',1589,[-15,15],range(-15,15,5),'Magnetic Field (Flux Rope Frame)','B(nT)',54,0);
line(G2,[0,86],[0,0],'#000','zero-line',1.5,'8,6');
line(G2,minutes,frBx,'#ff0000','bx-prime-line');
line(G2,minutes,frBy,'#008000','by-prime-line');
line(G2,minutes,frBz,'#0000ff','bz-prime-line');
line(G2,minutes,frBt,'#000000','b-magnitude-line');
legend(1601,1596,75,93,[{y:1609,c:'#f00',t:"Bx'"},{y:1631,c:'#008000',t:"By'"},{y:1652,c:'#00f',t:"Bz'"},{y:1675,c:'#000',t:'|B|'}],1610,1632,1648);

const G3=ts('pitch-angle-distribution',1872,[0,180],[0,60,120,180],'Suprathermal Electrons Pitch Angle Distribution (94.02eV)','pitch angle (deg)',54,0);
{
  const g=mk('g',{});
  
  
  mk('rect',{x:1692,y:1872,width:10,height:189,fill:'url(#jet)',stroke:'#000','stroke-width':1.5},g);
  const cbLabels=['-26','-27','-28','-29','-30','-31'];
  cbLabels.forEach((s,i)=>{
    const Y=1872+i*189/5;
    mk('line',{x1:1692,x2:1696,y1:Y,y2:Y,stroke:'#000'},g);
    const t=mk('text',{x:1711,y:Y+7,'font-size':17},g);
    
    
    t.innerHTML='10<tspan font-size="12" dy="-9">'+s+'</tspan>';
  });
}

const G4=ts('solar-wind-velocity',2156,[-500,100],range(-500,100,100),'Solar Wind Velocity (GSE Frame)','Vsw(km/s)',40,0);
line(G4,vxT,vxV,'#ff0000','vx-line');
line(G4,vyT,vyV,'#008000','vy-line');
line(G4,vzT,vzV,'#0000ff','vz-line');
legend(1607,2163,70,71,[{y:2175,c:'#f00',t:'Vx'},{y:2197,c:'#008000',t:'Vy'},{y:2219,c:'#00f',t:'Vz'}],1616,1638,1654);

const G5=ts('plasma-beta',2439,[0,5],range(0,5,1),'Plasma Beta','<tspan font-style="italic" font-family="Liberation Serif">β<tspan font-size="10" baseline-shift="sub">p</tspan></tspan> and <tspan font-style="italic" font-family="Liberation Serif">β</tspan>',70,0);
line(G5,betaT,betaP,'#0000ff','beta-p-line');
line(G5,betaT,betaTot,'#008000','beta-line');
legend(1610,2446,66,56,[{y:2460,c:'#00f',t:'<tspan font-style="italic" font-family="Liberation Serif">β<tspan font-size="9" baseline-shift="sub">p</tspan></tspan>'},{y:2486,c:'#008000',t:'<tspan font-style="italic" font-family="Liberation Serif">β</tspan>'}],1619,1641,1660);

const G6=ts('proton-number-density',2723,[0,30],range(0,30,5),'Proton Number Density','Np(#/cc)',69,0);
line(G6,npT,npV,'#0000ff','np-line');

const G7=ts('proton-temperature',3006,[0,0.5],range(0,0.5,0.1),'Proton Temperature and <tspan font-style="italic" font-family="Liberation Serif">T<tspan font-size="14" baseline-shift="sub">e</tspan>/T<tspan font-size="14" baseline-shift="sub">p</tspan></tspan>','Tp(10<tspan font-size="11" dy="-7">6</tspan><tspan dy="7">K)</tspan>',58,1,{titleHTML:true,noRightTicks:true});
line(G7,tpT,tpV,'#0000ff','tp-line');
const teAxis={sx:G7.sx,sy:lin(0,5,3006+189,3006),plot:G7.plot};
line(teAxis,teT,teV,'#ff0000','te-tp-ratio-line');
[0,1,2,3,4,5].forEach(v=>{
  const Y=teAxis.sy(v);
  const a=mk('line',{x1:TSX+TSW,x2:TSX+TSW-7,y1:Y,y2:Y,stroke:'#000','stroke-width':1.5});
  
  
  const t=mk('text',{x:TSX+TSW+8,y:Y+6,'font-size':17,fill:'#ff0000'});
  
  
  t.textContent=String(v);
});
{
  const t=mk('text',{transform:'translate(1734,3100) rotate(-90)','text-anchor':'middle','font-size':18,fill:'#ff0000','font-style':'italic','font-family':'Liberation Serif'});
  
  
  t.innerHTML='T<tspan font-size="12" baseline-shift="sub">e</tspan>/T<tspan font-size="12" baseline-shift="sub">p</tspan>';
}
legend(124,3013,71,27,[{y:3026,c:'#00f',t:'Tp'}],133,155,170);
legend(1594,3014,82,31,[{y:3029,c:'#f00',t:'<tspan font-style="italic" font-family="Liberation Serif">T<tspan font-size="10" baseline-shift="sub">e</tspan>/T<tspan font-size="10" baseline-shift="sub">p</tspan></tspan>'}],1603,1625,1640);
</script>
</body></html>
